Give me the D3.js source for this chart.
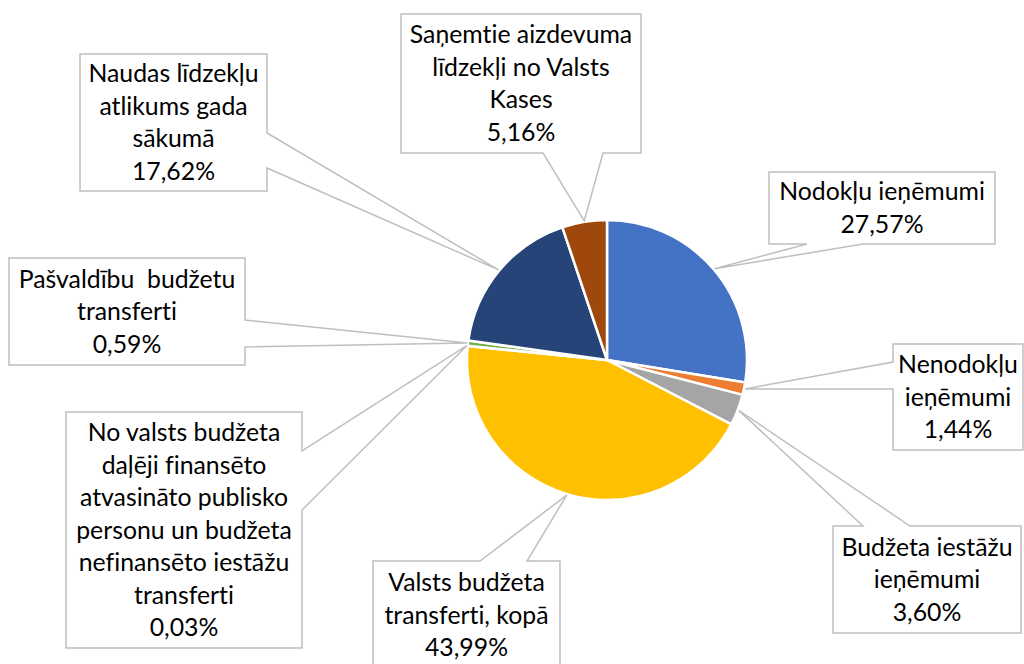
<!DOCTYPE html>
<html>
<head>
<meta charset="utf-8">
<script src="https://cdn.jsdelivr.net/npm/d3@7"></script>
<style>
  html, body { margin: 0; padding: 0; background: #fff; }
  svg { display: block; }
  .lbl { font-family: Lato, "Open Sans", sans-serif; fill: #000; font-variant-ligatures: none; font-feature-settings: "liga" 0, "clig" 0; }
</style>
</head>
<body>
<svg id="chart" width="1024" height="664"></svg>
<script>
// 数据
const categories = [
  "Nodokļu ieņēmumi",
  "Nenodokļu ieņēmumi",
  "Budžeta iestāžu ieņēmumi",
  "Valsts budžeta transferti, kopā",
  "No valsts budžeta daļēji finansēto atvasināto publisko personu un budžeta nefinansēto iestāžu transferti",
  "Pašvaldību budžetu transferti",
  "Naudas līdzekļu atlikums gada sākumā",
  "Saņemtie aizdevuma līdzekļi no Valsts Kases"
];
const values = [27.57, 1.44, 3.60, 43.99, 0.03, 0.59, 17.62, 5.16];
const colors = ["#4472C4", "#ED7D31", "#A5A5A5", "#FFC000", "#5B9BD5", "#70AD47", "#264478", "#9E480E"];

// label text, line by line, as wrapped in the picture
const labelLines = [
  ["Nodokļu ieņēmumi"],
  ["Nenodokļu", "ieņēmumi"],
  ["Budžeta iestāžu", "ieņēmumi"],
  ["Valsts budžeta", "transferti, kopā"],
  ["No valsts budžeta", "daļēji finansēto", "atvasināto publisko", "personu un budžeta", "nefinansēto iestāžu", "transferti"],
  ["Pašvaldību\u00a0 budžetu", "transferti"],
  ["Naudas līdzekļu", "atlikums gada", "sākumā"],
  ["Saņemtie aizdevuma", "līdzekļi no Valsts", "Kases"]
];

// callout boxes (layout only): box, side of tail, tail base positions on that side
const boxes = [
  { x: 769, y: 172, w: 226, h: 72,  side: "bottom", t1: 807, t2: 863 },
  { x: 893, y: 344, w: 130, h: 106, side: "left",   t1: 362, t2: 389 },
  { x: 833, y: 526, w: 188, h: 107, side: "top",    t1: 863, t2: 910 },
  { x: 373, y: 561, w: 187, h: 108, side: "top",    t1: 480, t2: 527 },
  { x: 66,  y: 412, w: 236, h: 236, side: "right",  t1: 451, t2: 510 },
  { x: 9,   y: 258, w: 236, h: 107, side: "right",  t1: 320, t2: 347 },
  { x: 80,  y: 54,  w: 187, h: 137, side: "right",  t1: 133, t2: 168 },
  { x: 401, y: 14,  w: 240, h: 139, side: "bottom", t1: 543, t2: 603 }
];

const fmt = v => v.toFixed(2).replace(".", ",") + "%";

const cx = 607, cy = 360, radius = 140;
const svg = d3.select("#chart");

const pie = d3.pie().sort(null).value(d => d)(values);
const arc = d3.arc().innerRadius(0).outerRadius(radius);
const edge = d3.arc().innerRadius(radius + 1).outerRadius(radius + 1);

const g = svg.append("g").attr("transform", `translate(${cx},${cy})`);
g.selectAll("path.slice").data(pie)
  .enter().append("path")
  .attr("class", "slice")
  .attr("d", arc)
  .attr("fill", (d, i) => colors[i])
  .attr("stroke", "#fff")
  .attr("stroke-width", 2.5)
  .attr("stroke-linejoin", "round");

// callout shape: rectangle with a wedge pointing to the slice
function calloutPath(b, a) {
  const x0 = b.x, y0 = b.y, x1 = b.x + b.w, y1 = b.y + b.h;
  const pts = [[x0, y0]];
  if (b.side === "top") pts.push([b.t1, y0], a, [b.t2, y0]);
  pts.push([x1, y0]);
  if (b.side === "right") pts.push([x1, b.t1], a, [x1, b.t2]);
  pts.push([x1, y1]);
  if (b.side === "bottom") pts.push([b.t2, y1], a, [b.t1, y1]);
  pts.push([x0, y1]);
  if (b.side === "left") pts.push([x0, b.t2], a, [x0, b.t1]);
  return d3.line()(pts) + "Z";
}

const lineH = 32.5;
const labels = svg.append("g");
pie.forEach((d, i) => {
  const b = boxes[i];
  const c = edge.centroid(d);
  const anchor = [cx + c[0], cy + c[1]];
  labels.append("path")
    .attr("d", calloutPath(b, anchor))
    .attr("fill", "#fff")
    .attr("stroke", "#BFBFBF")
    .attr("stroke-width", 1.5)
    .attr("stroke-linejoin", "miter");

  const lines = labelLines[i].concat([fmt(values[i])]);
  const mx = b.x + b.w / 2, my = b.y + b.h / 2;
  const t = labels.append("text")
    .attr("class", "lbl")
    .attr("text-anchor", "middle")
    .style("font-size", "24.8px");
  lines.forEach((s, k) => {
    t.append("tspan")
      .attr("x", mx)
      .attr("y", my + (k - (lines.length - 1) / 2) * lineH)
      .attr("dy", "0.35em")
      .text(s);
  });
});
</script>
</body>
</html>
